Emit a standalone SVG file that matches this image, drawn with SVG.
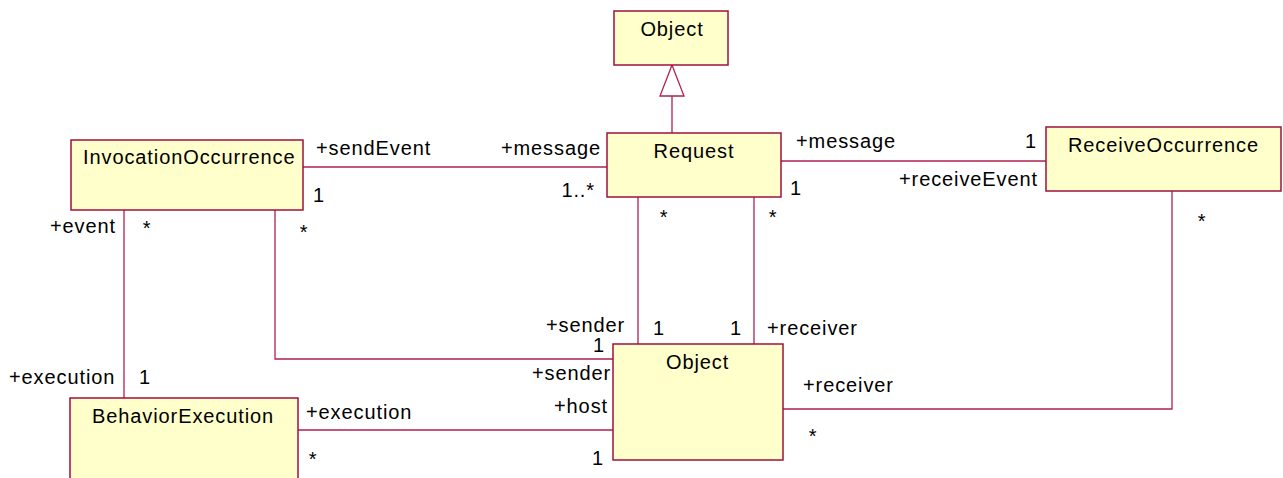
<svg xmlns="http://www.w3.org/2000/svg" width="1283" height="478" viewBox="0 0 1283 478">
<style>
.box{fill:#FFFFCC;stroke:#A0103F;stroke-width:1.5}
.ln{fill:none;stroke:#B02050;stroke-width:1.3}
text{font-family:"Liberation Sans",Arial,sans-serif;font-size:20px;letter-spacing:0.9px;fill:#000}
.m{text-anchor:middle}
.e{text-anchor:end}
</style>
<rect width="1283" height="478" fill="#fff"/>
<g id="connectors">
<line class="ln" x1="672" y1="133" x2="672" y2="96"/>
<polygon points="672,65 660,96 684,96" fill="#fff" stroke="#B02050" stroke-width="1.3"/>
<line class="ln" x1="303" y1="167" x2="607" y2="167"/>
<line class="ln" x1="781" y1="161" x2="1046" y2="161"/>
<line class="ln" x1="638" y1="197" x2="638" y2="344"/>
<line class="ln" x1="754" y1="197" x2="754" y2="344"/>
<polyline class="ln" points="275,210 275,359 613,359"/>
<line class="ln" x1="124" y1="210" x2="124" y2="398"/>
<line class="ln" x1="298" y1="430" x2="613" y2="430"/>
<polyline class="ln" points="1172,191 1172,409 783,409"/>
</g>
<g id="labels">
<text x="316" y="155">+sendEvent</text>
<text class="e" x="601" y="155">+message</text>
<text x="313" y="202">1</text>
<text class="e" x="595" y="197">1..*</text>
<text class="m" x="664" y="224">*</text>
<text class="m" x="773" y="224">*</text>
<text x="796" y="148">+message</text>
<text class="e" x="1037" y="148">1</text>
<text class="e" x="1038" y="186">+receiveEvent</text>
<text x="790" y="195">1</text>
<text class="m" x="1202" y="228">*</text>
<text x="50" y="233">+event</text>
<text class="m" x="147" y="235">*</text>
<text class="m" x="304" y="239">*</text>
<text x="546" y="332">+sender</text>
<text x="653" y="335">1</text>
<text x="730" y="335">1</text>
<text x="767" y="335">+receiver</text>
<text x="593" y="352">1</text>
<text x="532" y="380">+sender</text>
<text x="554" y="413">+host</text>
<text x="592" y="465">1</text>
<text x="803" y="392">+receiver</text>
<text class="m" x="813" y="443">*</text>
<text x="9" y="384">+execution</text>
<text x="139" y="384">1</text>
<text x="306" y="419">+execution</text>
<text class="m" x="313" y="466">*</text>
</g>
<g id="ObjectTop"><rect class="box" x="614" y="11" width="114" height="54"/><text class="m" x="672" y="36">Object</text></g>
<g id="Request"><rect class="box" x="607" y="133" width="174" height="64"/><text class="m" x="694" y="158">Request</text></g>
<g id="InvocationOccurrence"><rect class="box" x="71" y="140" width="232" height="70"/><text x="83" y="164">InvocationOccurrence</text></g>
<g id="ReceiveOccurrence"><rect class="box" x="1046" y="127" width="235" height="64"/><text x="1068" y="152">ReceiveOccurrence</text></g>
<g id="ObjectBottom"><rect class="box" x="613" y="344" width="170" height="116"/><text x="666" y="369">Object</text></g>
<g id="BehaviorExecution"><rect class="box" x="70" y="398" width="228" height="100"/><text x="92" y="423">BehaviorExecution</text></g>
</svg>
